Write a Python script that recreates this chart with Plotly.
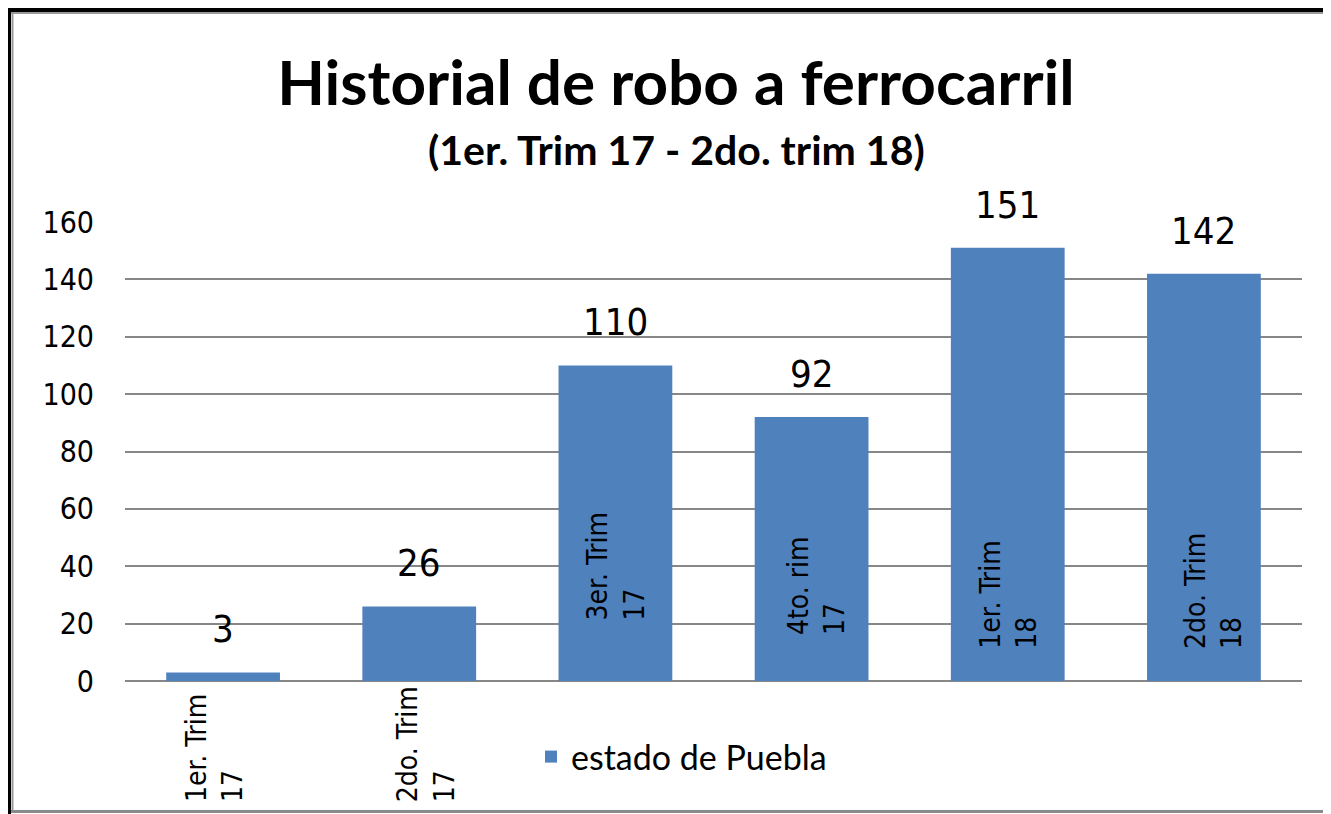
import plotly.graph_objects as go

categories = ["1er. Trim 17", "2do. Trim 17", "3er. Trim 17", "4to. rim 17", "1er. Trim 18", "2do. Trim 18"]
values = [3, 26, 110, 92, 151, 142]
series_name = "estado de Puebla"
title_text = "Historial de robo a ferrocarril"
subtitle_text = "(1er. Trim 17 - 2do. trim 18)"
y_ticks = [0, 20, 40, 60, 80, 100, 120, 140, 160]

W, H = 1331, 814
OFF = 8  # page body margin offset: figure px = screen px - OFF
PLOT_L, PLOT_R, PLOT_T, PLOT_B = 125 - OFF, 1302 - OFF, 222 - OFF, 681 - OFF
L, R, T, B = PLOT_L, W - PLOT_R, PLOT_T, H - PLOT_B
PW, PH = PLOT_R - PLOT_L, PLOT_B - PLOT_T

BAR = "#4F81BD"
GRID = "#878787"
COND = "DejaVu Sans Condensed, DejaVu Sans, sans-serif"
TITLE_FONT = "Lato, Open Sans, sans-serif"


def px_x(p):
    # p: screen pixel x
    return (p - OFF - PLOT_L) / PW


def px_y(p):
    # p: screen pixel y
    return (PLOT_B - (p - OFF)) / PH


fig = go.Figure()
fig.add_trace(go.Bar(
    x=categories, y=values, name=series_name,
    marker=dict(color=BAR, line=dict(width=0)),
    width=0.58, showlegend=True,
))

annotations = []
# value labels
for c, v in zip(categories, values):
    annotations.append(dict(
        x=c, y=v, xref="x", yref="y", text=str(v), showarrow=False,
        yanchor="middle", yshift=43,
        font=dict(family=COND, size=38, color="#000000"),
    ))

# rotated category labels (first two below axis, rest inside bars)
label_bottoms = [804, 804, 622, 637, 651, 651]
label_xshifts = [-9, 6, 0, 5, 0, 9]
for c, bot, xs in zip(categories, label_bottoms, label_xshifts):
    parts = c.rsplit(" ", 1)
    txt = parts[0] + "<br>" + parts[1]
    annotations.append(dict(
        x=c, y=px_y(bot), xref="x", yref="paper", text=txt, showarrow=False,
        textangle=-90, xanchor="center", yanchor="bottom", align="left", xshift=xs,
        font=dict(family=COND, size=28, color="#000000"),
    ))

# subtitle
annotations.append(dict(
    x=px_x(676), y=px_y(149), xref="paper", yref="paper", text="<b>" + subtitle_text + "</b>",
    showarrow=False, xanchor="center", yanchor="middle",
    font=dict(family=TITLE_FONT, size=41, color="#000000"),
))

shapes = [
    # outer black frame (left & top)
    dict(type="line", xref="paper", yref="paper", x0=px_x(8), x1=px_x(8), y0=px_y(6), y1=px_y(830),
         line=dict(color="#000000", width=6)),
    dict(type="line", xref="paper", yref="paper", x0=px_x(5), x1=px_x(1345), y0=px_y(9.5), y1=px_y(9.5),
         line=dict(color="#000000", width=5)),
    # inner gray edges
    dict(type="line", xref="paper", yref="paper", x0=px_x(12.5), x1=px_x(12.5), y0=px_y(12), y1=px_y(812),
         line=dict(color="#9a9a9a", width=2)),
    dict(type="line", xref="paper", yref="paper", x0=px_x(11), x1=px_x(1345), y0=px_y(13), y1=px_y(13),
         line=dict(color="#9a9a9a", width=2)),
    dict(type="line", xref="paper", yref="paper", x0=px_x(11), x1=px_x(1345), y0=px_y(811.5), y1=px_y(811.5),
         line=dict(color="#8a8a8a", width=3)),
]

fig.update_layout(
    width=W, height=H,
    margin=dict(l=L, r=R, t=T, b=B, pad=0),
    paper_bgcolor="#ffffff", plot_bgcolor="#ffffff",
    title=dict(text="<b>" + title_text + "</b>", x=(676 - OFF) / W, y=1 - (83 - OFF) / H,
               xref="container", yref="container", xanchor="center", yanchor="middle",
               font=dict(family=TITLE_FONT, size=62, color="#000000")),
    xaxis=dict(type="category", showticklabels=False, showgrid=False, zeroline=False,
               showline=False, ticks="", range=[-0.5, 5.5]),
    yaxis=dict(range=[0, 160], tickvals=y_ticks, showgrid=True, gridcolor=GRID, gridwidth=2,
               zeroline=True, zerolinecolor=GRID, zerolinewidth=2, showline=False, ticks="",
               ticklabelstandoff=30,
               tickfont=dict(family=COND, size=30, color="#000000")),
    legend=dict(orientation="h", x=px_x(531), y=px_y(757), xanchor="left", yanchor="middle",
                font=dict(family=TITLE_FONT, size=34, color="#000000"), bgcolor="rgba(0,0,0,0)"),
    annotations=annotations,
    shapes=shapes,
)

fig.write_html("out.html")
